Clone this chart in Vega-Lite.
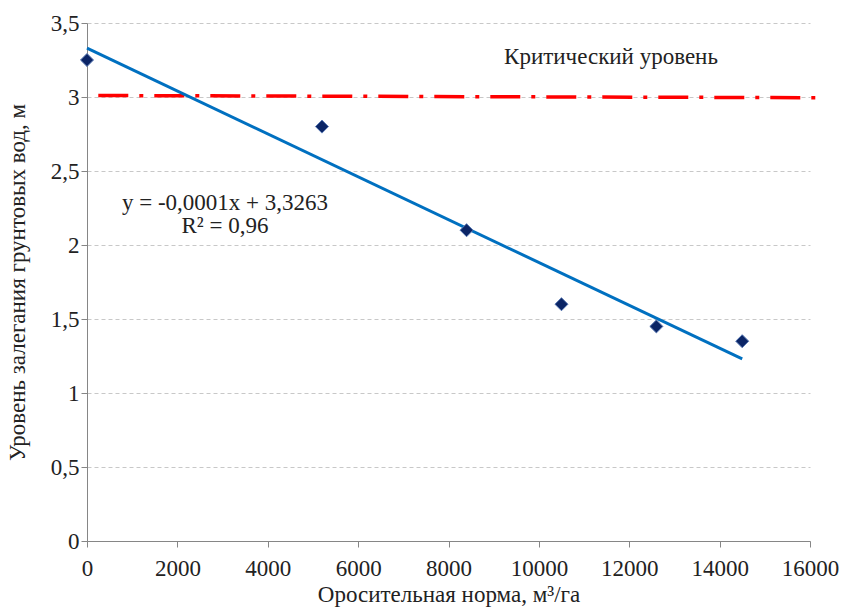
{
  "$schema": "https://vega.github.io/schema/vega-lite/v6.json",
  "autosize": "none",
  "width": 723,
  "height": 518,
  "padding": {"left": 87, "top": 23, "right": 31, "bottom": 74},
  "background": "white",
  "config": {
    "view": {"stroke": null},
    "font": "Liberation Serif",
    "axis": {
      "labelFont": "Liberation Serif",
      "titleFont": "Liberation Serif",
      "labelFontSize": 23,
      "titleFontSize": 23,
      "titleFontWeight": "normal",
      "labelColor": "#222222",
      "titleColor": "#222222",
      "domainColor": "#868686",
      "tickColor": "#868686",
      "tickSize": 6,
      "labelFlush": false,
      "gridColor": "#c8c8c8",
      "gridDash": [4, 3]
    }
  },
  "datasets": {
    "points": [
      {"x": 0, "y": 3.25},
      {"x": 5200, "y": 2.8},
      {"x": 8400, "y": 2.1},
      {"x": 10500, "y": 1.6},
      {"x": 12600, "y": 1.45},
      {"x": 14500, "y": 1.35}
    ],
    "trend": [
      {"x": 0, "y": 3.33},
      {"x": 14500, "y": 1.23}
    ],
    "critical": [
      {"x": 250, "y": 3.01},
      {"x": 16350, "y": 2.995}
    ],
    "labels": [
      {"x": 11596, "y": 3.27, "text": "Критический уровень"},
      {"x": 3054, "y": 2.284, "text": "y = -0,0001x + 3,3263"},
      {"x": 3054, "y": 2.13, "text": "R² = 0,96"}
    ]
  },
  "layer": [
    {
      "data": {"name": "critical"},
      "mark": {"type": "line", "color": "#ff0000", "strokeWidth": 3.5, "strokeDash": [30, 11, 4, 11], "clip": false},
      "encoding": {
        "x": {"field": "x", "type": "quantitative", "scale": {"domain": [0, 16000], "nice": false},
          "axis": {"title": "Оросительная норма, м³/га", "values": [0,2000,4000,6000,8000,10000,12000,14000,16000], "format": "d", "grid": false, "labelPadding": 10, "titlePadding": 3}},
        "y": {"field": "y", "type": "quantitative", "scale": {"domain": [0, 3.5], "nice": false},
          "axis": {"title": "Уровень залегания грунтовых вод, м", "values": [0,0.5,1,1.5,2,2.5,3,3.5],
            "labelExpr": "replace(toString(datum.value), '.', ',')", "grid": true, "labelPadding": 2,
            "titleX": -58}}
      }
    },
    {
      "data": {"name": "trend"},
      "mark": {"type": "line", "color": "#0070c0", "strokeWidth": 3},
      "encoding": {
        "x": {"field": "x", "type": "quantitative"},
        "y": {"field": "y", "type": "quantitative"}
      }
    },
    {
      "data": {"name": "points"},
      "mark": {"type": "point", "shape": "diamond", "filled": true, "size": 170, "fill": "#0b2566", "stroke": "#5b7bb5", "strokeWidth": 1, "opacity": 1, "clip": false},
      "encoding": {
        "x": {"field": "x", "type": "quantitative"},
        "y": {"field": "y", "type": "quantitative"}
      }
    },
    {
      "data": {"name": "labels"},
      "mark": {"type": "text", "font": "Liberation Serif", "fontSize": 23, "color": "#222222", "align": "center", "baseline": "middle"},
      "encoding": {
        "x": {"field": "x", "type": "quantitative"},
        "y": {"field": "y", "type": "quantitative"},
        "text": {"field": "text"}
      }
    }
  ]
}
